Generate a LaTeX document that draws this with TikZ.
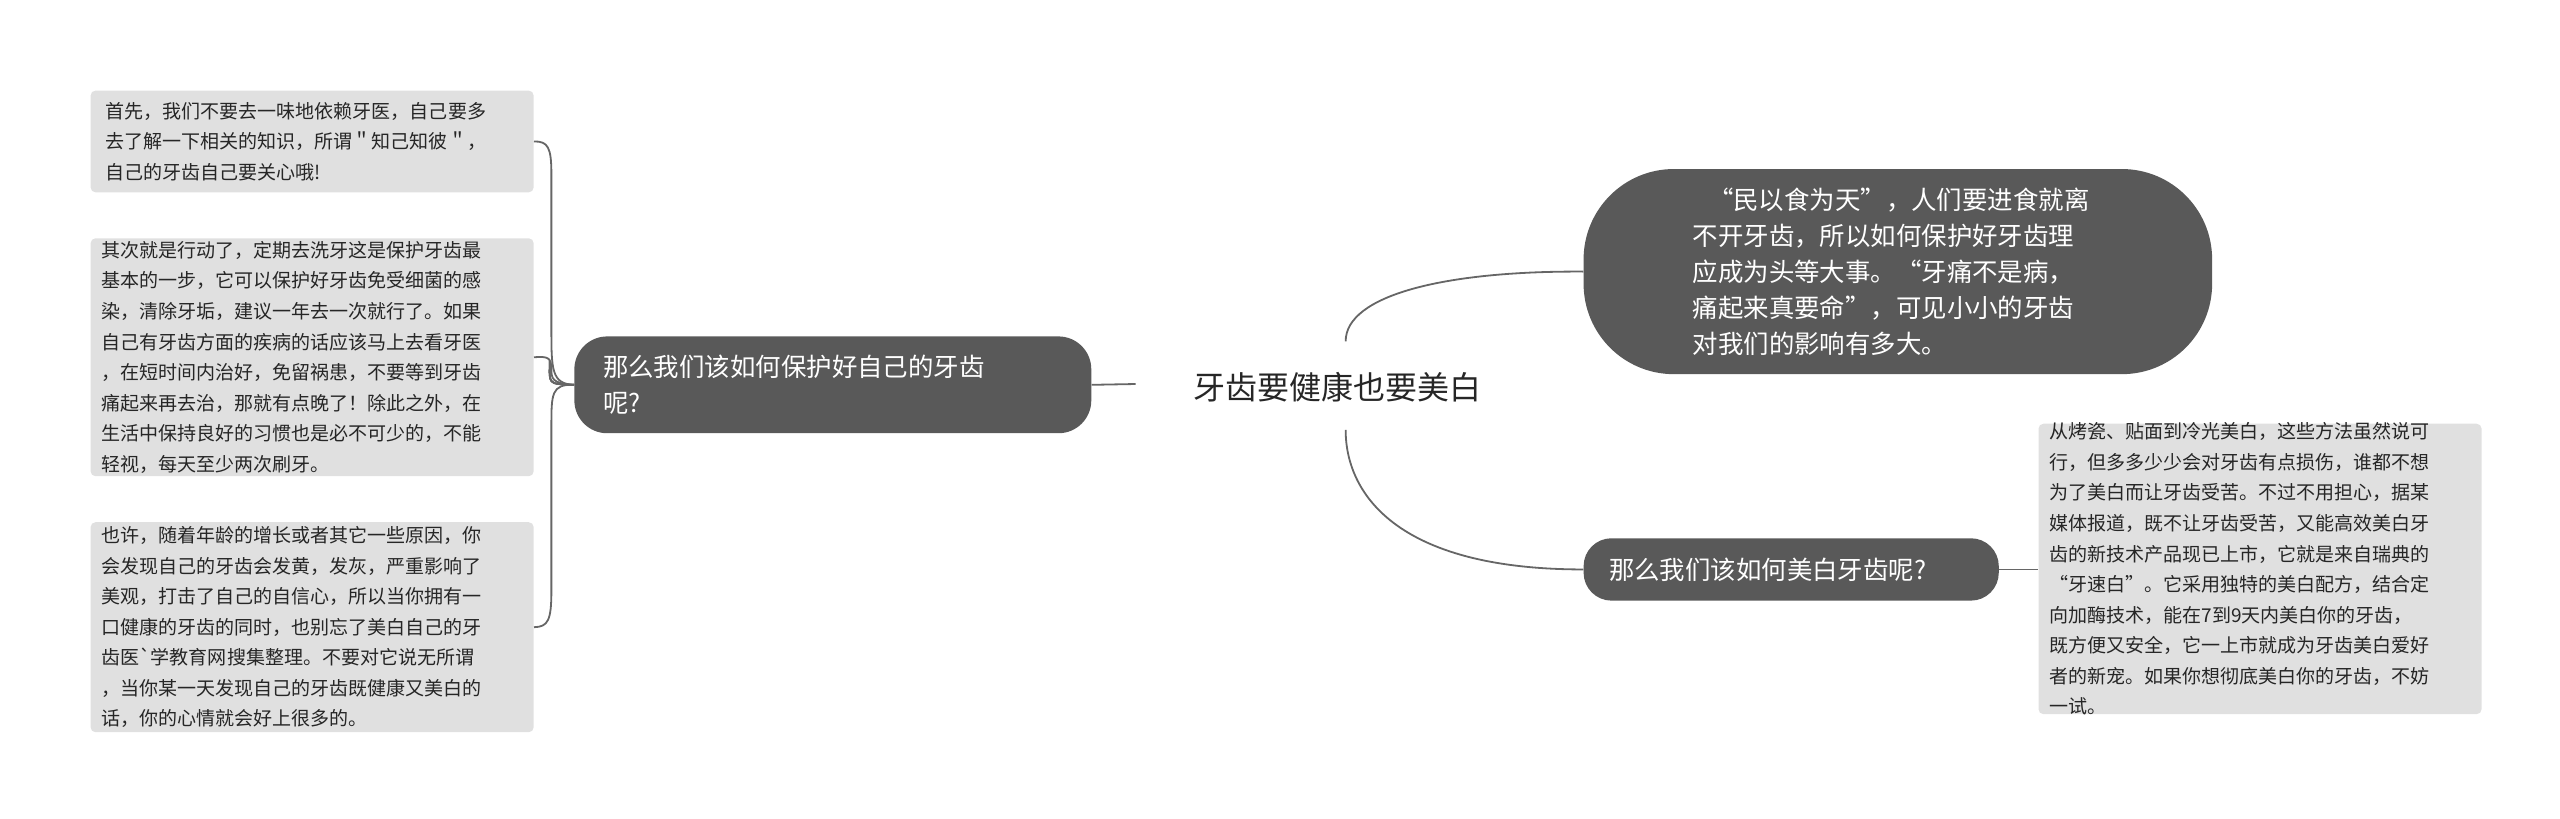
\documentclass[tikz,border=0pt]{standalone}
\usepackage{fontspec}
\newfontfamily\cjk{Noto Sans CJK SC}
\begin{document}
\begin{tikzpicture}[x=1pt,y=-1pt,
  pill/.style={draw=none,fill=black!65,rounded corners=20pt,text=white,font=\cjk\fontsize{15.5}{22}\selectfont,align=left,inner sep=0pt},
  leaf/.style={fill=black!12,rounded corners=3pt,text=black!85,font=\cjk\fontsize{11.6}{18.6}\selectfont,align=left,inner sep=0pt,anchor=north west},
  conn/.style={draw=black!60,line width=1.1pt}]
\useasboundingbox (0,0) rectangle (1560,499);
\node[font=\cjk\fontsize{19.5}{24}\selectfont,text=black!85] (c) at (815,236) {牙齿要健康也要美白};
\node[pill,minimum width=315,minimum height=59,text width=280] (L) at (507.5,234.5) {那么我们该如何保护好自己的牙齿\\呢?};
\node[pill,minimum width=383,minimum height=125,rounded corners=55pt,text width=250] (R1) at (1156.5,165.5) {\hspace*{0.6em}“民以食为天”，人们要进食就离\\不开牙齿，所以如何保护好牙齿理\\应成为头等大事。“牙痛不是病，\\痛起来真要命”，可见小小的牙齿\\对我们的影响有多大。};
\node[pill,minimum width=253,minimum height=38,rounded corners=17pt,text width=222] (R2) at (1091.5,347) {那么我们该如何美白牙齿呢?};
\node[leaf,minimum width=270,minimum height=62,text width=260] (a) at (55,55) {\hspace*{4pt}\parbox[t][60pt][c]{260pt}{首先，我们不要去一味地依赖牙医，自己要多\\去了解一下相关的知识，所谓＂知己知彼＂，\\自己的牙齿自己要关心哦!}};
\node[leaf,minimum width=270,minimum height=145] (b) at (55,145) {\hspace*{5pt}\parbox[t][143pt][c]{262pt}{其次就是行动了，定期去洗牙这是保护牙齿最\\基本的一步，它可以保护好牙齿免受细菌的感\\染，清除牙垢，建议一年去一次就行了。如果\\自己有牙齿方面的疾病的话应该马上去看牙医\\，在短时间内治好，免留祸患，不要等到牙齿\\痛起来再去治，那就有点晚了！除此之外，在\\生活中保持良好的习惯也是必不可少的，不能\\轻视，每天至少两次刷牙。}};
\node[leaf,minimum width=270,minimum height=128] (d) at (55,318) {\hspace*{5pt}\parbox[t][126pt][c]{262pt}{也许，随着年龄的增长或者其它一些原因，你\\会发现自己的牙齿会发黄，发灰，严重影响了\\美观，打击了自己的自信心，所以当你拥有一\\口健康的牙齿的同时，也别忘了美白自己的牙\\齿医`学教育网搜集整理。不要对它说无所谓\\，当你某一天发现自己的牙齿既健康又美白的\\话，你的心情就会好上很多的。}};
\node[leaf,minimum width=270,minimum height=177] (e) at (1242,258) {\hspace*{5pt}\parbox[t][175pt][c]{262pt}{从烤瓷、贴面到冷光美白，这些方法虽然说可\\行，但多多少少会对牙齿有点损伤，谁都不想\\为了美白而让牙齿受苦。不过不用担心，据某\\媒体报道，既不让牙齿受苦，又能高效美白牙\\齿的新技术产品现已上市，它就是来自瑞典的\\“牙速白”。它采用独特的美白配方，结合定\\向加酶技术，能在7到9天内美白你的牙齿，\\既方便又安全，它一上市就成为牙齿美白爱好\\者的新宠。如果你想彻底美白你的牙齿，不妨\\一试。}};
\coordinate (cl) at (692,234);
\coordinate (cr1) at (820,208);
\coordinate (cr2) at (820,262);
\draw[conn] (L.east) -- (cl);
\draw[conn] (cr1) .. controls (820,180) and (880,165) .. (R1.west);
\draw[conn] (cr2) .. controls (820,300) and (850,347) .. (R2.west);
\draw[conn] (R2.east) -- (e.west |- R2.east);
\foreach \t in {a,b,d}{
  \draw[conn] (L.west) .. controls (333,234) and (335,234) .. (335,220) -- (335,220);
}
\draw[conn] (L.west) .. controls (336,234) and (336,225) .. (336,200) -- (336,106) .. controls (336,90) and (334,86) .. (a.east);
\draw[conn] (L.west) .. controls (336,234) and (336,230) .. (336,225) .. controls (336,218) and (334,217) .. (b.east);
\draw[conn] (L.west) .. controls (336,234) and (336,240) .. (336,260) -- (336,360) .. controls (336,378) and (334,382) .. (d.east);
\end{tikzpicture}
\end{document}
